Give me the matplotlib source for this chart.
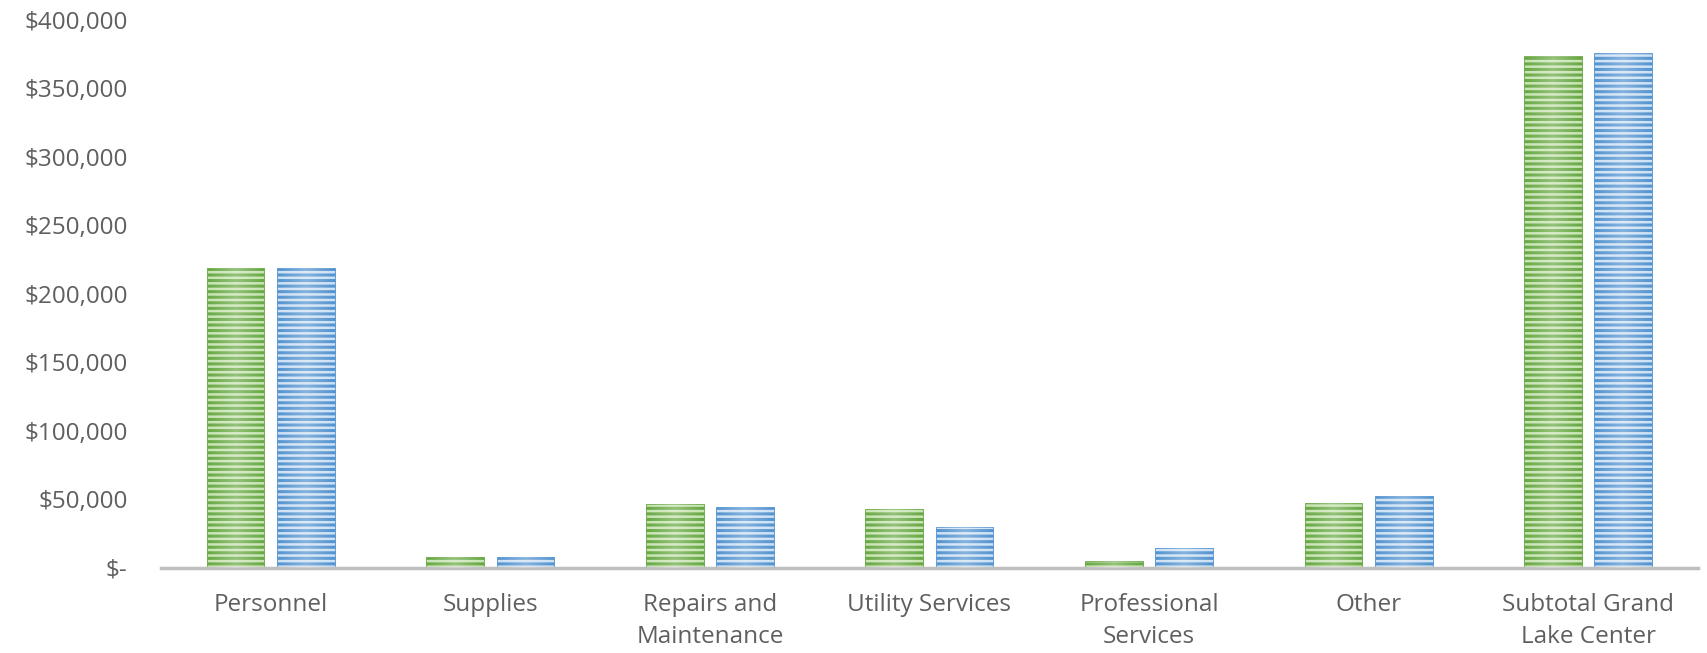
import matplotlib.pyplot as plt
import numpy as np
from matplotlib.ticker import FuncFormatter

categories = ['Personnel', 'Supplies', 'Repairs and\nMaintenance', 'Utility Services',
              'Professional\nServices', 'Other', 'Subtotal Grand\nLake Center']
series_a = [219000, 8000, 46800, 42900, 4800, 47600, 373800]
series_b = [219000, 8000, 44400, 30200, 14300, 52400, 375400]

plt.rcParams['font.family'] = ['Open Sans', 'DejaVu Sans']
plt.rcParams['hatch.linewidth'] = 2.2

fig = plt.figure(figsize=(17.07, 6.53), dpi=100)
ax = fig.add_axes([0.0943, 0.1302, 0.9004, 0.8398])

x = np.arange(len(categories))
w = 0.263
off = 0.16

bars_a = ax.bar(x - off, series_a, w, color='#c8e4b3', edgecolor='#67a843', hatch='---', linewidth=0.6)
bars_b = ax.bar(x + off, series_b, w, color='#cde1f4', edgecolor='#5393d0', hatch='---', linewidth=0.6)

# lighter centre like the gradient fill in the original
grad = np.abs(np.linspace(-1, 1, 64))
grad = np.tile(grad, (2, 1))
for b in list(bars_a) + list(bars_b):
    x0, y0 = b.get_x(), b.get_y()
    ov = ax.imshow(np.dstack([np.ones_like(grad)] * 3 + [0.3 * (1 - grad)]),
                   extent=(x0, x0 + b.get_width(), y0, y0 + b.get_height()),
                   aspect='auto', zorder=3, interpolation='bilinear')
    ov.set_clip_path(b)

ax.set_xlim(-0.5, len(categories) - 0.5)
ax.set_ylim(0, 400000)
ax.set_yticks(np.arange(0, 400001, 50000))
ax.yaxis.set_major_formatter(FuncFormatter(lambda v, p: '$-' if v == 0 else '${:,.0f}'.format(v)))
ax.set_xticks(x)
ax.set_xticklabels(categories, linespacing=1.45)

for s in ['top', 'right', 'left']:
    ax.spines[s].set_visible(False)
ax.spines['bottom'].set_color('#bfbfbf')
ax.spines['bottom'].set_linewidth(2.5)
ax.tick_params(axis='both', length=0, labelsize=17.5, colors='#5f5f5f')
ax.tick_params(axis='y', pad=24)
ax.tick_params(axis='x', pad=18)

fig.savefig('out.png', dpi=100)
